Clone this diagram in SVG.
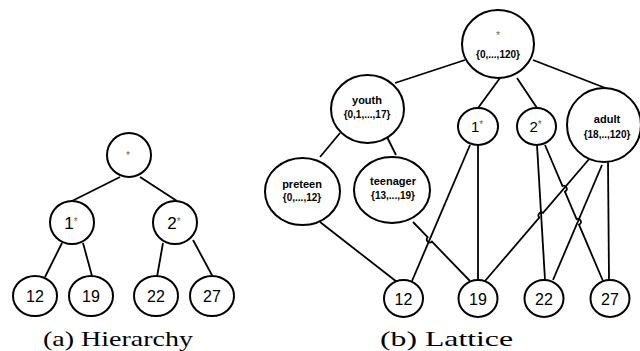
<svg xmlns="http://www.w3.org/2000/svg" width="640" height="351" viewBox="0 0 640 351">
<style>
.n{fill:#fff;stroke:#000;stroke-width:2}
.e{fill:none;stroke:#000;stroke-width:1.8}
.num{font-family:"Liberation Sans",Arial,sans-serif;font-size:16px;text-anchor:middle;fill:#000}
.ast{font-family:"Liberation Sans",Arial,sans-serif;font-size:10px;text-anchor:middle;fill:#666}
.nm{font-family:"Liberation Sans",Arial,sans-serif;font-weight:bold;font-size:11px;text-anchor:middle;fill:#000}
.rg{font-family:"Liberation Sans",Arial,sans-serif;font-weight:bold;font-size:10px;text-anchor:middle;fill:#000}
.cap{font-family:"Liberation Serif","Times New Roman",serif;font-size:21px;fill:#000}
</style>
<rect width="640" height="351" fill="#fff"/>
<g id="edges">
<path class="e" d="M120,177 L72,201"/>
<path class="e" d="M140,177 L177,201"/>
<path class="e" d="M62,243 L45,277"/>
<path class="e" d="M83,243 L92,276"/>
<path class="e" d="M163,243 L157,277"/>
<path class="e" d="M193,240 L213,277"/>
<path class="e" d="M465,60 L395,83"/>
<path class="e" d="M500,78 L478,108"/>
<path class="e" d="M517,78 L537,108"/>
<path class="e" d="M533,60 L608,89"/>
<path class="e" d="M340,133 L320,157"/>
<path class="e" d="M385,133 L396,155"/>
<path class="e" d="M320,222 L397,282"/>
<path class="e" d="M413,222 L427.7,237.2 A3,3 0 0 0 431.9,241.6 L470,281"/>
<path class="e" d="M470,145 L412,281"/>
<path class="e" d="M478,145 L478,280"/>
<path class="e" d="M537,145 L545,280"/>
<path class="e" d="M545,145 L562.5,186 A3,3 0 0 1 564.9,191.6 L576.6,219.1 A3,3 0 0 1 579,224.7 L603,281"/>
<path class="e" d="M590,158 L543.1,212.9 A3,3 0 0 0 539.3,217.5 L485,281"/>
<path class="e" d="M602,165 L553,280"/>
<path class="e" d="M608,162 L609,280"/>
</g>
<g id="h-root"><ellipse class="n" cx="129" cy="155" rx="22" ry="22"/><text class="ast" x="128" y="158.5">*</text></g>
<g id="h-1"><ellipse class="n" cx="72" cy="222.5" rx="22" ry="21.5"/><text class="num" x="71" y="228.5" style="font-size:17px">1<tspan class="ast" dy="-4">*</tspan></text></g>
<g id="h-2"><ellipse class="n" cx="175" cy="222.5" rx="22" ry="21.5"/><text class="num" x="174" y="228.5" style="font-size:17px">2<tspan class="ast" dy="-4">*</tspan></text></g>
<g id="h-12"><ellipse class="n" cx="35" cy="296" rx="22" ry="20"/><text class="num" x="35" y="302">12</text></g>
<g id="h-19"><ellipse class="n" cx="91" cy="296" rx="22" ry="20"/><text class="num" x="91" y="302">19</text></g>
<g id="h-22"><ellipse class="n" cx="156" cy="296" rx="22" ry="20"/><text class="num" x="156" y="302">22</text></g>
<g id="h-27"><ellipse class="n" cx="212" cy="296" rx="22" ry="20"/><text class="num" x="212" y="302">27</text></g>
<g id="l-root"><ellipse class="n" cx="498" cy="44" rx="36" ry="34"/><text class="ast" x="498" y="39">*</text><text class="rg" x="498" y="58">{0,...,120}</text></g>
<g id="l-youth"><ellipse class="n" cx="367.5" cy="109" rx="36.5" ry="34"/><text class="nm" x="367" y="104">youth</text><text class="rg" x="367" y="118">{0,1,...,17}</text></g>
<g id="l-1"><ellipse class="n" cx="478" cy="126.5" rx="20" ry="18.5"/><text class="num" x="477" y="132" style="font-size:15px">1<tspan class="ast" dy="-4">*</tspan></text></g>
<g id="l-2"><ellipse class="n" cx="536.5" cy="126.5" rx="19.5" ry="18.5"/><text class="num" x="535.5" y="132" style="font-size:15px">2<tspan class="ast" dy="-4">*</tspan></text></g>
<g id="l-adult"><ellipse class="n" cx="604" cy="125" rx="37" ry="37"/><text class="nm" x="607" y="123">adult</text><text class="rg" x="607" y="138">{18,..,120}</text></g>
<g id="l-preteen"><ellipse class="n" cx="302.5" cy="191.5" rx="37.5" ry="33.5"/><text class="nm" x="302" y="188">preteen</text><text class="rg" x="302" y="201">{0,...,12}</text></g>
<g id="l-teenager"><ellipse class="n" cx="392" cy="190" rx="38" ry="33"/><text class="nm" x="393" y="185">teenager</text><text class="rg" x="393" y="199">{13,...,19}</text></g>
<g id="l-12"><ellipse class="n" cx="403.5" cy="298.5" rx="19.5" ry="18.5"/><text class="num" x="403.5" y="304.5">12</text></g>
<g id="l-19"><ellipse class="n" cx="478" cy="298.5" rx="19.5" ry="18.5"/><text class="num" x="478" y="304.5">19</text></g>
<g id="l-22"><ellipse class="n" cx="544" cy="298.5" rx="19.5" ry="18.5"/><text class="num" x="544" y="304.5">22</text></g>
<g id="l-27"><ellipse class="n" cx="610" cy="298.5" rx="19.5" ry="18.5"/><text class="num" x="610" y="304.5">27</text></g>
<text class="cap" x="43" y="346" textLength="150" lengthAdjust="spacingAndGlyphs">(a) Hierarchy</text>
<text class="cap" x="380" y="346" textLength="133" lengthAdjust="spacingAndGlyphs">(b) Lattice</text>
</svg>
